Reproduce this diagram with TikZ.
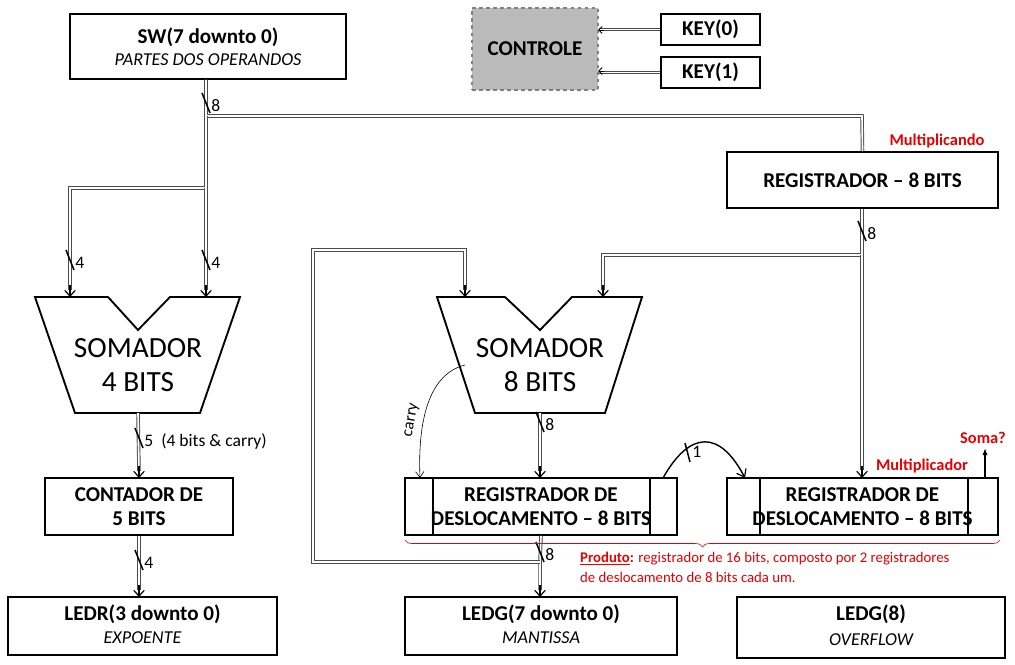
\documentclass[tikz,border=0pt]{standalone}
\usepackage{fontspec}
\setmainfont{Carlito}
\usetikzlibrary{arrows.meta,decorations.pathreplacing,calc}
\definecolor{redlbl}{RGB}{230,0,0}
\tikzset{
  blk/.style={draw, line width=1.6pt, inner sep=0pt},
  bus/.style={draw=black!70, double=white, double distance=1.4pt, line width=0.8pt},
  tip/.style={-{Straight Barb[length=5pt,width=9pt,line width=1pt]}, black, line width=1.3pt},
  ttl/.style={font=\fontsize{18}{21}\selectfont\bfseries, align=center},
  sub/.style={font=\fontsize{15.5}{18}\selectfont\itshape},
  big/.style={font=\fontsize{25}{29}\selectfont, align=center},
  wd/.style={font=\fontsize{15}{17}\selectfont, anchor=west, inner sep=1pt},
  rlbl/.style={font=\fontsize{14}{16}\selectfont\bfseries, text=redlbl},
}
% bus width mark
\newcommand{\bw}[3]{\draw[line width=1.3pt] (#1-4,#2-10) -- (#1+4,#2+10);
  \node[wd] at (#1+4,#2+3) {#3};}
\begin{document}
\begin{tikzpicture}[x=0.03cm,y=-0.03cm]
  \useasboundingbox (0,0) rectangle (1015,664);
  % boxes
  \node[blk, minimum width=276*0.03cm, minimum height=65*0.03cm] (sw) at (208,46.5) {};
  \node[ttl] at (208,37) {SW(7 downto 0)};
  \node[sub] at (208,60) {PARTES DOS OPERANDOS};
  \node[draw=black!50, fill=black!27, dashed, line width=1.6pt, minimum width=126*0.03cm, minimum height=82*0.03cm, ttl] (ctl) at (535,49) {CONTROLE};
  \node[blk, ttl, minimum width=99*0.03cm, minimum height=31*0.03cm] (k0) at (710.5,29.5) {KEY(0)};
  \node[blk, ttl, minimum width=99*0.03cm, minimum height=31*0.03cm] (k1) at (710.5,72.5) {KEY(1)};
  \node[blk, ttl, minimum width=271*0.03cm, minimum height=56*0.03cm] (reg) at (862.5,180) {REGISTRADOR -- 8 BITS};
  \node[blk, ttl, minimum width=188*0.03cm, minimum height=57*0.03cm] (cnt) at (139,506.5) {CONTADOR DE\\5 BITS};
  \node[blk, minimum width=272*0.03cm, minimum height=57*0.03cm] (shl) at (541,506.5) {};
  \node[ttl] at (541,506.5) {REGISTRADOR DE\\DESLOCAMENTO -- 8 BITS};
  \node[blk, minimum width=271*0.03cm, minimum height=57*0.03cm] (shr) at (862.5,506.5) {};
  \node[ttl] at (862.5,506.5) {REGISTRADOR DE\\DESLOCAMENTO -- 8 BITS};
  \draw[line width=1.2pt] (433,478) -- (433,535) (650,478) -- (650,535)
    (760,478) -- (760,535) (968,478) -- (968,535);
  \node[blk, minimum width=269*0.03cm, minimum height=58*0.03cm] (ledr) at (142.5,626) {};
  \node[ttl] at (142.5,614) {LEDR(3 downto 0)};
  \node[sub] at (142.5,638) {EXPOENTE};
  \node[blk, minimum width=272*0.03cm, minimum height=58*0.03cm] (ledg) at (541,626) {};
  \node[ttl] at (541,614) {LEDG(7 downto 0)};
  \node[sub] at (541,638) {MANTISSA};
  \node[blk, minimum width=268*0.03cm, minimum height=61*0.03cm] (ovf) at (871,627.5) {};
  \node[ttl] at (871,614) {LEDG(8)};
  \node[sub] at (871,640) {OVERFLOW};
  % somadores
  \draw[line width=1.6pt] (108,297) -- (35,297) -- (75,413) -- (200,413) -- (240,297) -- (170,297) -- (138,330) -- (108,297);
  \coordinate (s4) at (138,413);
  \node[big] at (138,365) {SOMADOR\\4 BITS};
  \draw[line width=1.6pt] (505,297) -- (437,297) -- (475,413) -- (605,413) -- (642,297) -- (572,297) -- (540,330) -- (505,297);
  \coordinate (s8) at (540,413);
  \node[big] at (540,365) {SOMADOR\\8 BITS};
  % buses
  \coordinate (j1) at (206,116);
  \coordinate (j2) at (206,188);
  \coordinate (j3) at (862,255);
  \coordinate (j4) at (540,562);
  \draw[bus] (sw.south -| j1) -- (j1) -- (862,116) -- (reg.north);
  \draw[bus] (j1) -- (j2) -- (70,188) -- (70,290);
  \draw[bus] (j2) -- (206,290);
  \draw[bus] (reg.south -| j3) -- (j3) -- (603,255) -- (603,290);
  \draw[bus] (j3) -- (862,470);
  \draw[bus] (s4) -- (139,471);
  \draw[bus] (cnt.south) -- (139,590);
  \draw[bus] (s8) -- (540,471);
  \draw[bus] (shl.south) -- (j4) -- (540,590);
  \draw[bus] (j4) -- (313,562) -- (313,250) -- (465,250) -- (465,290);
  \draw[bus] (k0.west) -- (ctl.east |- k0.west);
  \draw[bus] (k1.west) -- (ctl.east |- k1.west);
  \foreach \x/\y in {70/297,206/297,603/297,465/297,862/478,139/478,139/597,540/478,540/597}
    \draw[tip] (\x,\y-12) -- (\x,\y);
  \foreach \y in {30,71}
    \draw[-{Straight Barb[length=3pt,width=6pt]}, line width=0.8pt] (604,\y) -- (598,\y);
  % width marks
  \bw{206}{103}{8}
  \bw{70}{260}{4}
  \bw{206}{260}{4}
  \bw{862}{231}{8}
  \bw{139}{438}{5\ \ (4 bits \& carry)}
  \bw{139}{560}{4}
  \bw{540}{422}{8}
  \bw{540}{552}{8}
  % carry and shift bit
  \draw[-{Straight Barb[length=5pt,width=7pt]}, line width=0.5pt] (465,365) .. controls (425,375) and (418,430) .. (420,478);
  \node[rotate=80, font=\fontsize{14}{16}\selectfont, inner sep=0pt] at (412,420) {carry};
  \draw[-{Straight Barb[length=6pt,width=9pt,line width=1pt]}, line width=1.2pt] (663,478) .. controls (690,430) and (720,430) .. (745,478);
  \draw[line width=1.3pt] (685,443) -- (690,462);
  \node[wd] at (691,452) {1};
  \draw[-{Latex[length=6pt]}, line width=1.2pt] (985,478) -- (985,448);
  % red labels
  \node[rlbl] at (937,141) {Multiplicando};
  \node[rlbl] at (922,466) {Multiplicador};
  \node[rlbl] at (983,438) {Soma?};
  \draw[redlbl, line width=0.5pt, decorate, decoration={brace, mirror, amplitude=6pt}] (405,540) -- (1000,540);
  \node[rlbl, font=\fontsize{12.6}{17}\selectfont, align=left, anchor=north west, inner sep=0pt] at (580,552)
    {\textbf{\underline{Produto}:} {\mdseries registrador de 16 bits, composto por 2 registradores}\\{\mdseries de deslocamento de 8 bits cada um.}};
\end{tikzpicture}
\end{document}
